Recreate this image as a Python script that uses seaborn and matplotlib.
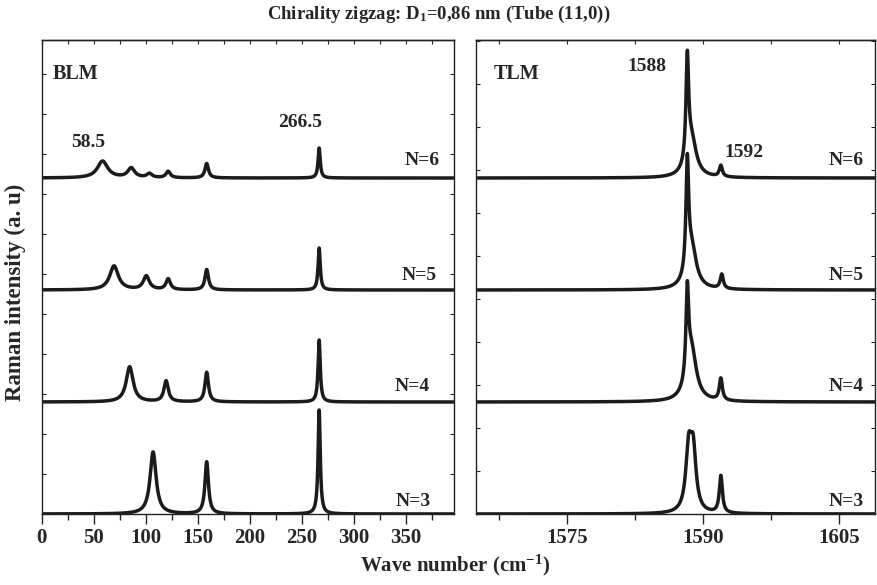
import numpy as np
import seaborn as sns
import matplotlib.pyplot as plt
from matplotlib.ticker import MultipleLocator

# Spectra labels (bottom to top)
n_labels = ["N=3", "N=4", "N=5", "N=6"]

# BLM peaks: positions (cm-1), heights (a. u), widths (FWHM, cm-1)
blm_pos = [
    [107, 158.5, 266.5],
    [84.5, 119.5, 158.5, 266.5],
    [69.5, 100.5, 121.5, 158.5, 266.5],
    [58.5, 86, 103.5, 121.5, 158.5, 266.5],
]
blm_height = [
    [1.55, 1.30, 2.60],
    [0.88, 0.52, 0.74, 1.55],
    [0.60, 0.34, 0.27, 0.51, 1.05],
    [0.42, 0.24, 0.10, 0.16, 0.36, 0.75],
]
blm_width = [
    [7, 4, 2.5],
    [8, 5, 4, 2.5],
    [10, 7, 5, 4, 2.5],
    [12, 8, 6, 5, 4, 2.5],
]

# TLM peaks
tlm_pos = [
    [1588.45, 1588.95, 1592.0],
    [1588.3, 1588.75, 1592.0],
    [1588.3, 1588.75, 1592.1],
    [1588.3, 1588.75, 1592.0],
]
tlm_height = [
    [1.50, 1.45, 0.93],
    [2.15, 1.30, 0.55],
    [2.70, 1.05, 0.36],
    [2.55, 0.95, 0.28],
]
tlm_width = [
    [0.75, 0.75, 0.4],
    [0.35, 1.3, 0.4],
    [0.35, 1.3, 0.4],
    [0.35, 1.3, 0.4],
]

offset_step = 2.8
line_color = "#1c1a1b"


def spectrum(x, pos, height, width):
    # sum of lorentzian lines
    y = np.zeros_like(x)
    for p, h, w in zip(pos, height, width):
        y += h / (1 + ((x - p) / (w / 2)) ** 2)
    return y


sns.set_style("ticks")
plt.rcParams["font.family"] = ["Liberation Serif", "DejaVu Serif"]
plt.rcParams["font.weight"] = "bold"
plt.rcParams["mathtext.fontset"] = "custom"
plt.rcParams["mathtext.rm"] = "Liberation Serif:bold"
plt.rcParams["mathtext.bf"] = "Liberation Serif:bold"
plt.rcParams["mathtext.it"] = "Liberation Serif:bold:italic"

fig = plt.figure(figsize=(8.77, 5.85), dpi=100)
ax1 = fig.add_axes([0.0475, 0.1214, 0.4702, 0.8102])
ax2 = fig.add_axes([0.5428, 0.1214, 0.4549, 0.8102])

x_blm = np.linspace(0, 396, 4000)
x_tlm = np.linspace(1565, 1609, 4000)

for i in range(4):
    y = spectrum(x_blm, blm_pos[i], blm_height[i], blm_width[i]) + i * offset_step
    sns.lineplot(x=x_blm, y=y, ax=ax1, color=line_color, lw=2.5,
                 estimator=None, sort=False)
    y = spectrum(x_tlm, tlm_pos[i], tlm_height[i], tlm_width[i]) + i * offset_step
    sns.lineplot(x=x_tlm, y=y, ax=ax2, color=line_color, lw=2.5,
                 estimator=None, sort=False)

ylim = (0, 11.85)
ax1.set_xlim(0, 396)
ax2.set_xlim(1565, 1609)
for ax in (ax1, ax2):
    ax.set_ylim(*ylim)
    for s in ax.spines.values():
        s.set_linewidth(1.0)
        s.set_color("#222222")
    ax.tick_params(axis="y", which="both", direction="in", left=True, right=True,
                   length=3, width=0.8)
    ax.tick_params(axis="x", which="major", direction="out", length=7, width=1,
                   labelsize=15, pad=3)
    ax.tick_params(axis="x", which="minor", direction="out", length=4, width=1)
    ax.set_xlabel("")
    ax.set_ylabel("")

ax1.xaxis.set_major_locator(MultipleLocator(50))
ax1.xaxis.set_minor_locator(MultipleLocator(25))
ax1.yaxis.set_major_locator(MultipleLocator(1))
ax1.set_yticklabels([])
ax2.xaxis.set_major_locator(MultipleLocator(15))
ax2.xaxis.set_minor_locator(MultipleLocator(7.5))
ax2.yaxis.set_major_locator(MultipleLocator(1.075))
ax2.set_yticklabels([])

# top ticks pointing inward
for ax, step in ((ax1, 25), (ax2, 7.5)):
    top = ax.secondary_xaxis("top")
    top.xaxis.set_major_locator(MultipleLocator(step))
    top.tick_params(direction="in", length=3, width=0.8, labeltop=False)
    top.spines["top"].set_linewidth(1.0)

# N labels
label_x_left = [374, 373, 379, 382.5]
label_dy = [0.3, 0.38, 0.36, 0.45]
for i, lab in enumerate(n_labels):
    ax1.text(label_x_left[i], i * offset_step + label_dy[i], lab, ha="right",
             va="center", fontsize=14, fontweight="bold")
    ax2.text(1607.8, i * offset_step + label_dy[i], lab, ha="right",
             va="center", fontsize=14, fontweight="bold")

ax1.text(10.9, 11.0, "BLM", fontsize=14.5, fontweight="bold", va="center")
ax2.text(1567.0, 11.0, "TLM", fontsize=14.5, fontweight="bold", va="center")
ax1.text(45, 9.3, "58.5", fontsize=14, fontweight="bold", ha="center", va="center")
ax1.text(248.5, 9.78, "266.5", fontsize=14, fontweight="bold", ha="center", va="center")
ax2.text(1583.9, 11.18, "1588", fontsize=14, fontweight="bold", ha="center", va="center")
ax2.text(1594.6, 9.03, "1592", fontsize=14, fontweight="bold", ha="center", va="center")

fig.text(0.5, 0.975, "Chirality zigzag: D$_1$=0,86 nm (Tube (11,0))",
         ha="center", va="center", fontsize=13.5, fontweight="bold")
fig.text(0.519, 0.034, "Wave number (cm$^{-1}$)", ha="center", va="center",
         fontsize=15, fontweight="bold")
fig.text(0.017, 0.5, "Raman intensity (a. u)", ha="center", va="center",
         rotation=90, fontsize=16.5, fontweight="bold")

fig.savefig("out.png", dpi=100)
